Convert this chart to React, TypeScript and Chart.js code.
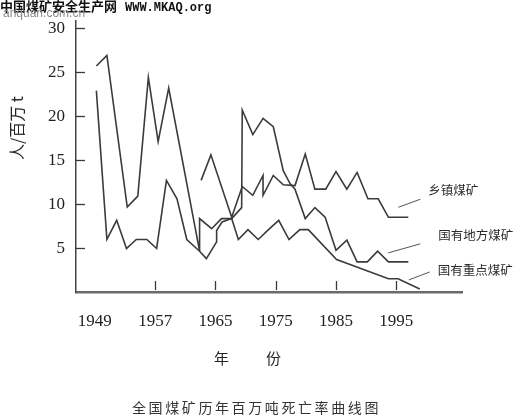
import React, { useEffect, useRef } from 'react';
import { Chart, registerables, LinearScale } from 'chart.js';

Chart.register(...registerables);

// ---- data ----
const X_TICK_YEARS = [1949, 1957, 1965, 1975, 1985, 1995];
const Y_TICKS = [5, 10, 15, 20, 25, 30];

const SERIES_NAMES = ['乡镇煤矿', '国有地方煤矿', '国有重点煤矿'];

// 乡镇煤矿 (township mines)
const XZ_YEARS = [1963.1, 1964.4, 1967.7, 1969.45, 1971.2, 1972.9, 1972.9, 1974.6, 1976.25, 1978.2, 1979.9, 1981.5, 1983.3, 1985.0, 1986.8, 1988.5, 1990.3, 1992.0, 1993.7, 1997.0];
const XZ_RATE = [12.7, 15.6, 8.5, 12.0, 11.0, 13.25, 11.0, 13.25, 12.2, 12.1, 15.7, 11.7, 11.7, 13.7, 11.7, 13.6, 10.6, 10.6, 8.5, 8.5];

// 国有地方煤矿 (local state-owned mines)
const DF_YEARS = [1949.2, 1950.6, 1953.3, 1954.7, 1956.1, 1957.4, 1958.8, 1962.9, 1962.9, 1964.5, 1966.0, 1967.7, 1969.35, 1969.45, 1971.2, 1972.9, 1974.6, 1976.25, 1977.4, 1978.2, 1979.9, 1981.5, 1983.2, 1985.0, 1986.8, 1988.5, 1990.2, 1991.9, 1993.7, 1997.0];
const DF_RATE = [25.7, 26.9, 9.66, 10.9, 24.4, 17.1, 23.2, 4.64, 8.35, 7.2, 8.35, 8.35, 9.6, 20.7, 17.9, 19.75, 18.8, 13.8, 12.3, 11.7, 8.35, 9.6, 8.5, 4.75, 5.9, 3.43, 3.43, 4.64, 3.43, 3.43];

// 国有重点煤矿 (key state-owned mines)
const ZD_YEARS = [1949.2, 1950.6, 1951.9, 1953.2, 1954.5, 1955.9, 1957.2, 1958.5, 1959.9, 1961.2, 1962.9, 1963.8, 1965.2, 1965.2, 1966.1, 1967.7, 1968.8, 1970.4, 1972.1, 1973.8, 1975.5, 1977.2, 1979.0, 1980.4, 1985.1, 1993.7, 1995.3, 1998.9];
const ZD_RATE = [22.9, 6.0, 8.15, 4.95, 5.97, 5.97, 4.95, 12.7, 10.6, 5.97, 4.64, 3.8, 5.7, 7.0, 7.96, 8.35, 5.97, 7.1, 5.97, 7.1, 8.15, 5.97, 7.1, 7.1, 3.7, 1.5, 1.5, 0.35];

const X_MIN = 1946.5;
const X_MAX = 2005.9;
const Y_MAX = 30.8;

// ---- axis whose labelled years are evenly spaced (as in the original drawing) ----
function yearToIdx(v: number): number {
  const k = X_TICK_YEARS;
  const n = k.length - 1;
  if (v <= k[0]) return (v - k[0]) / (k[1] - k[0]);
  if (v >= k[n]) return n + (v - k[n]) / (k[n] - k[n - 1]);
  for (let i = 0; i < n; i++) {
    if (v <= k[i + 1]) return i + (v - k[i]) / (k[i + 1] - k[i]);
  }
  return n;
}
function idxToYear(t: number): number {
  const k = X_TICK_YEARS;
  const n = k.length - 1;
  if (t <= 0) return k[0] + t * (k[1] - k[0]);
  if (t >= n) return k[n] + (t - n) * (k[n] - k[n - 1]);
  const i = Math.floor(t);
  return k[i] + (t - i) * (k[i + 1] - k[i]);
}

class YearAxis extends LinearScale {
  static id = 'yearAxis';
  static defaults = {};
  buildTicks() {
    return X_TICK_YEARS.map((value) => ({ value }));
  }
  getPixelForValue(value: any) {
    if (value === null || value === undefined || isNaN(value)) return NaN;
    const a = yearToIdx((this as any).min);
    const b = yearToIdx((this as any).max);
    return (this as any).getPixelForDecimal((yearToIdx(value) - a) / (b - a));
  }
  getValueForPixel(pixel: number) {
    const a = yearToIdx((this as any).min);
    const b = yearToIdx((this as any).max);
    return idxToYear(a + (this as any).getDecimalForPixel(pixel) * (b - a));
  }
}
Chart.register(YearAxis as any);

const toPoints = (xs: number[], ys: number[]) => xs.map((x, i) => ({ x, y: ys[i] }));

// label placement relative to each line's last point (styling offsets)
const LABEL_STYLE = [
  { l0: [-10, -10], l1: [12, -18], t: [20, -27] },
  { l0: [-20, -9], l1: [12, -18], t: [30, -27] },
  { l0: [-11, -9], l1: [10, -17], t: [18, -19] },
];

const decorPlugin = {
  id: 'decor',
  afterDraw(chart: any) {
    const { ctx, chartArea } = chart;
    const xs = chart.scales.x;
    const ys = chart.scales.y;
    ctx.save();
    ctx.strokeStyle = '#3a3a3a';
    ctx.lineWidth = 1.3;
    // inward tick marks on x axis (no mark at first label)
    xs.ticks.forEach((_t: any, i: number) => {
      if (i === 0) return;
      const px = Math.round(xs.getPixelForTick(i)) + 0.5;
      ctx.beginPath();
      ctx.moveTo(px, chartArea.bottom - 2);
      ctx.lineTo(px, chartArea.bottom - 11);
      ctx.stroke();
    });
    // inward tick marks on y axis
    ys.ticks.forEach((_t: any, i: number) => {
      const py = Math.round(ys.getPixelForTick(i)) + 0.5;
      ctx.beginPath();
      ctx.moveTo(chartArea.left, py);
      ctx.lineTo(chartArea.left + 9, py);
      ctx.stroke();
    });
    // series names with leader lines
    ctx.font = '12.5px "Noto Sans CJK SC", sans-serif';
    ctx.fillStyle = '#2a2a2a';
    ctx.textBaseline = 'middle';
    ctx.textAlign = 'left';
    ctx.strokeStyle = '#555';
    ctx.lineWidth = 1;
    chart.data.datasets.forEach((ds: any, i: number) => {
      const meta = chart.getDatasetMeta(i);
      const last = meta.data[meta.data.length - 1];
      if (!last) return;
      const st = LABEL_STYLE[i];
      ctx.beginPath();
      ctx.moveTo(last.x + st.l0[0], last.y + st.l0[1]);
      ctx.lineTo(last.x + st.l1[0], last.y + st.l1[1]);
      ctx.stroke();
      ctx.fillText(ds.label, last.x + st.t[0], last.y + st.t[1]);
    });
    ctx.restore();
  },
};

export default function App() {
  const ref = useRef<HTMLCanvasElement | null>(null);

  useEffect(() => {
    if (!ref.current) return;
    const lineStyle = {
      borderColor: '#3b3b3b',
      borderWidth: 1.6,
      pointRadius: 0,
      tension: 0,
      fill: false,
    };
    const chart = new Chart(ref.current, {
      type: 'line',
      data: {
        datasets: [
          { label: SERIES_NAMES[0], data: toPoints(XZ_YEARS, XZ_RATE), ...lineStyle },
          { label: SERIES_NAMES[1], data: toPoints(DF_YEARS, DF_RATE), ...lineStyle },
          { label: SERIES_NAMES[2], data: toPoints(ZD_YEARS, ZD_RATE), ...lineStyle },
        ],
      },
      options: {
        responsive: false,
        animation: false,
        events: [],
        layout: { padding: { top: 20, right: 68, left: 0, bottom: 0 } },
        plugins: { legend: { display: false }, tooltip: { enabled: false }, title: { display: false } },
        scales: {
          x: {
            type: 'yearAxis' as any,
            min: X_MIN,
            max: X_MAX,
            grid: { display: false, drawTicks: false },
            border: { display: true, color: '#6a6a6a', width: 2.5 },
            ticks: {
              autoSkip: false,
              maxRotation: 0,
              padding: 19,
              color: '#222',
              font: { family: '"Liberation Serif", "Times New Roman", serif', size: 17 },
              callback: (v: any) => String(v),
            },
            afterFit: (s: any) => {
              s.height = 128;
            },
          },
          y: {
            type: 'linear',
            min: 0,
            max: Y_MAX,
            grid: { display: false, drawTicks: false },
            border: { display: true, color: '#444', width: 1.5 },
            afterBuildTicks: (s: any) => {
              s.ticks = Y_TICKS.map((value) => ({ value }));
            },
            ticks: {
              padding: 11,
              color: '#222',
              font: { family: '"Liberation Serif", "Times New Roman", serif', size: 17 },
            },
            afterFit: (s: any) => {
              s.width = 76;
            },
          },
        },
      },
      plugins: [decorPlugin],
    } as any);
    return () => chart.destroy();
  }, []);

  const cjk = '"Noto Sans CJK SC", sans-serif';
  return (
    <div style={{ position: 'absolute', left: 0, top: 0, width: 530, height: 420, background: '#fff', overflow: 'hidden' }}>
      <canvas ref={ref} width={530} height={420} style={{ position: 'absolute', left: 0, top: 0 }} />
      <div style={{ position: 'absolute', left: 0, top: -2, whiteSpace: 'nowrap', color: '#111', lineHeight: '16px' }}>
        <span style={{ fontFamily: cjk, fontWeight: 700, fontSize: 13 }}>中国煤矿安全生产网</span>
        <span style={{ fontFamily: '"Liberation Mono", monospace', fontWeight: 700, fontSize: 12, marginLeft: 8 }}>WWW.MKAQ.org</span>
      </div>
      <div style={{ position: 'absolute', left: 3, top: 6, fontFamily: 'Arial, "Liberation Sans", sans-serif', fontSize: 12, color: '#8a8a8a', whiteSpace: 'nowrap', lineHeight: '14px' }}>
        anquan.com.cn
      </div>
      <div
        style={{
          position: 'absolute',
          left: 16,
          top: 128,
          transform: 'translate(-50%, -50%) rotate(-90deg)',
          fontFamily: cjk,
          fontSize: 16,
          color: '#222',
          whiteSpace: 'nowrap',
        }}
      >
        人/百万 t
      </div>
      <div style={{ position: 'absolute', left: 214, top: 348, width: 67, display: 'flex', justifyContent: 'space-between', fontFamily: cjk, fontSize: 15, color: '#222', lineHeight: '20px' }}>
        <span>年</span>
        <span>份</span>
      </div>
      <div style={{ position: 'absolute', left: 132, top: 397, fontFamily: cjk, fontSize: 14, letterSpacing: 2.6, color: '#333', whiteSpace: 'nowrap', lineHeight: '20px' }}>
        全国煤矿历年百万吨死亡率曲线图
      </div>
    </div>
  );
}
